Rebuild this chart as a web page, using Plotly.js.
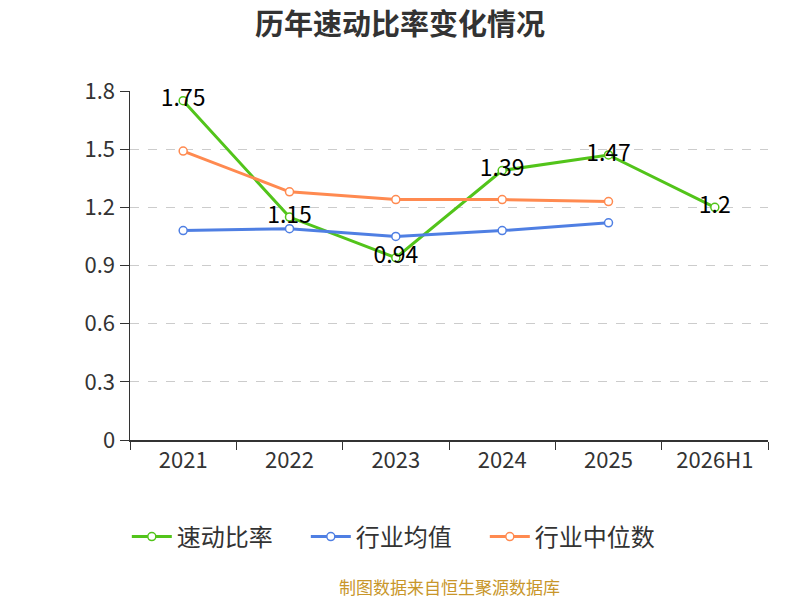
<!DOCTYPE html>
<html>
<head>
<meta charset="utf-8">
<script src="https://cdn.plot.ly/plotly-3.0.1.min.js"></script>
<style>body{margin:0;background:#fff}#chart{width:800px;height:600px}</style>
</head>
<body>
<div id="chart"></div>
<script>
var years = ['2021', '2022', '2023', '2024', '2025', '2026H1'];
var quickRatio = [1.75, 1.15, 0.94, 1.39, 1.47, 1.2];
var industryMean = [1.08, 1.09, 1.05, 1.08, 1.12];
var industryMedian = [1.49, 1.28, 1.24, 1.24, 1.23];
var yTicks = [0, 0.3, 0.6, 0.9, 1.2, 1.5, 1.8];

var font = '"Noto Sans CJK SC", "Noto Sans", sans-serif';

function series(name, ys, color, withText) {
  var t = {
    x: years.slice(0, ys.length), y: ys, name: name,
    type: 'scatter', mode: withText ? 'lines+markers+text' : 'lines+markers',
    line: {color: color, width: 3},
    marker: {size: 8, color: '#fff', line: {color: color, width: 1.5}},
    cliponaxis: false
  };
  if (withText) {
    t.text = ys.map(String);
    t.textposition = 'middle center';
    t.textfont = {size: 23, color: '#000', family: font};
  }
  return t;
}

var data = [
  series('速动比率', quickRatio, '#52C41A', true),
  series('行业均值', industryMean, '#4F7FE3', false),
  series('行业中位数', industryMedian, '#FF8A50', false)
];

var layout = {
  width: 800, height: 600,
  margin: {l: 130, r: 32, t: 91, b: 160},
  paper_bgcolor: '#fff', plot_bgcolor: '#fff',
  font: {family: font, color: '#333'},
  showlegend: true,
  hovermode: false,
  title: {text: '<b>历年速动比率变化情况</b>', x: 0.5, xanchor: 'center', y: 0.958, yanchor: 'middle',
          font: {size: 29, color: '#333', family: font}},
  xaxis: {
    type: 'category', categoryorder: 'array', categoryarray: years,
    range: [-0.5, 5.5], tickson: 'boundaries',
    showline: true, linecolor: '#333', linewidth: 1.5,
    ticks: 'outside', ticklen: 8, tickcolor: '#333',
    showgrid: false, zeroline: false,
    tickfont: {size: 22, color: '#333'}
  },
  yaxis: {
    range: [0, 1.8], tickvals: yTicks, ticktext: yTicks.map(String),
    showline: true, linecolor: '#333', linewidth: 1.5,
    ticks: 'outside', ticklen: 9, tickcolor: '#333',
    showgrid: true, gridcolor: '#ccc', griddash: 'dash', gridwidth: 1.2,
    zeroline: false,
    tickfont: {size: 22, color: '#333'}
  },
  legend: {orientation: 'h', x: -0.005, xanchor: 'left', y: -0.278, yanchor: 'middle',
           font: {size: 24, color: '#333'}, itemwidth: 40,
           entrywidth: 124, entrywidthmode: 'pixels'},
  annotations: [{
    text: '制图数据来自恒生聚源数据库', xref: 'paper', yref: 'paper',
    x: 0.5, y: -0.42, xanchor: 'center', yanchor: 'middle', showarrow: false,
    font: {size: 17, color: '#C8962A'}
  }]
};

Plotly.newPlot('chart', data, layout, {displayModeBar: false, staticPlot: true});
</script>
</body>
</html>
